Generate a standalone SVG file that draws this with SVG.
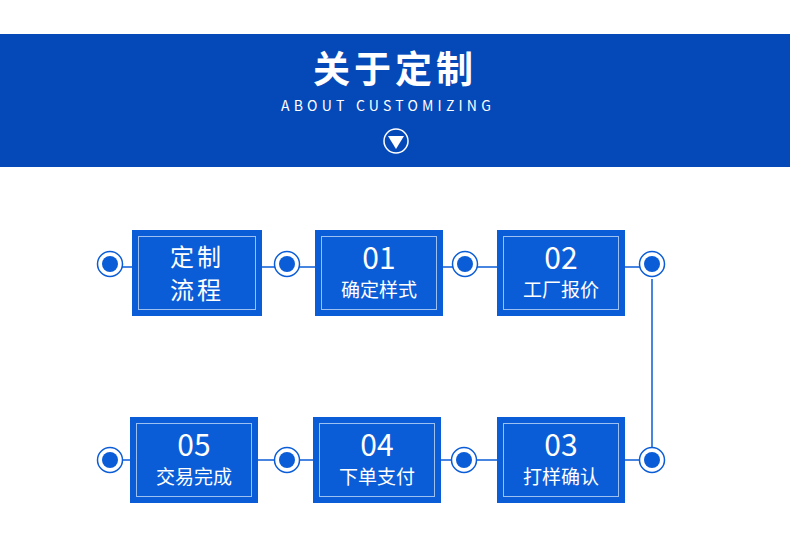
<svg xmlns="http://www.w3.org/2000/svg" width="790" height="557" viewBox="0 0 790 557">
<style>
.box{fill:#0B5DD7}
.inner{fill:none;stroke:#9CC0F2;stroke-width:1}
.t{font-family:"Noto Sans CJK SC","Noto Sans",sans-serif;fill:#fff;text-anchor:middle}
.num{font-size:30px}
.lbl{font-size:19px}
.ring{fill:#fff;stroke:#0B5DD7;stroke-width:1.5}
.dot{fill:#0B5DD7}
.ln{stroke:#0B5DD7;stroke-width:1.5;fill:none}
</style>
<defs>
<g id="c"><circle r="12.5" class="ring"/><circle r="8" class="dot"/></g>
</defs>
<rect width="790" height="557" fill="#fff"/>
<g id="banner">
<rect x="0" y="34" width="790" height="133" fill="#0549B8"/>
<text x="395" y="83" class="t" font-size="37" font-weight="bold" letter-spacing="4">关于定制</text>
<text x="388" y="111" class="t" font-size="14" letter-spacing="4.2" font-family="Liberation Sans">ABOUT CUSTOMIZING</text>
<circle cx="396" cy="141" r="12" fill="none" stroke="#fff" stroke-width="1.5"/>
<path d="M388,136 L404,136 L396,149 Z" fill="#fff"/>
</g>
<g id="connectors">
<path class="ln" d="M122,267 H132 M262,267 H275 M299,267 H315 M443,267 H453 M477,267 H497 M625,267 H640"/>
<path class="ln" d="M652,279 V448"/>
<path class="ln" d="M122,460 H130 M258,460 H275 M299,460 H313 M441,460 H452 M476,460 H497 M625,460 H640"/>
</g>
<g id="circles">
<use href="#c" x="110" y="264"/><use href="#c" x="287" y="264"/><use href="#c" x="465" y="264"/><use href="#c" x="652" y="264"/>
<use href="#c" x="110" y="460"/><use href="#c" x="287" y="460"/><use href="#c" x="464" y="460"/><use href="#c" x="652" y="460"/>
</g>
<g id="n0"><rect class="box" x="132" y="230" width="130" height="86"/><rect class="inner" x="138.5" y="236.5" width="117" height="73"/>
<text x="197" y="266" class="t" font-size="24" letter-spacing="3">定制</text><text x="197" y="299" class="t" font-size="24" letter-spacing="3">流程</text></g>
<g id="n1"><rect class="box" x="315" y="230" width="128" height="86"/><rect class="inner" x="321.5" y="236.5" width="115" height="73"/>
<text x="379" y="269" class="t num">01</text><text x="379" y="297" class="t lbl">确定样式</text></g>
<g id="n2"><rect class="box" x="497" y="230" width="128" height="86"/><rect class="inner" x="503.5" y="236.5" width="115" height="73"/>
<text x="561" y="269" class="t num">02</text><text x="561" y="297" class="t lbl">工厂报价</text></g>
<g id="n3"><rect class="box" x="497" y="417" width="128" height="86"/><rect class="inner" x="503.5" y="423.5" width="115" height="73"/>
<text x="561" y="456" class="t num">03</text><text x="561" y="484" class="t lbl">打样确认</text></g>
<g id="n4"><rect class="box" x="313" y="417" width="128" height="86"/><rect class="inner" x="319.5" y="423.5" width="115" height="73"/>
<text x="377" y="456" class="t num">04</text><text x="377" y="484" class="t lbl">下单支付</text></g>
<g id="n5"><rect class="box" x="130" y="417" width="128" height="86"/><rect class="inner" x="136.5" y="423.5" width="115" height="73"/>
<text x="194" y="456" class="t num">05</text><text x="194" y="484" class="t lbl">交易完成</text></g>
</svg>
